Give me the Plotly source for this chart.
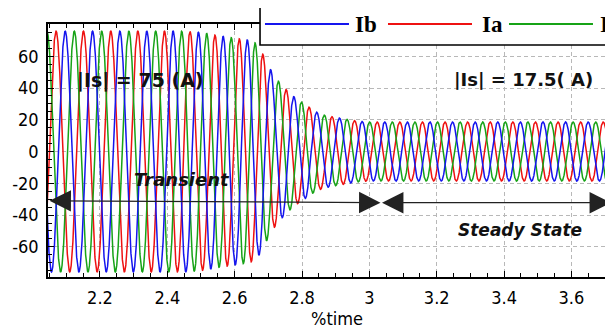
import numpy as np
import plotly.graph_objects as go

# ---- values ----
# instantaneous frequency of the currents (cycles per time unit) at knot times
freq_t = [2.00, 2.20, 2.35, 2.45, 2.55, 2.65, 2.75, 2.90, 3.80]
freq_v = [12.3, 12.3, 12.6, 13.3, 13.7, 14.2, 14.6, 14.9, 14.9]
# peak amplitude envelope (A) at knot times
amp_t = [2.00, 2.45, 2.50, 2.55, 2.588, 2.612, 2.638, 2.66, 2.68, 2.70, 2.725,
         2.75, 2.773, 2.797, 2.817, 2.84, 2.865, 2.888, 2.909, 2.932, 2.954,
         2.98, 3.00, 3.80]
amp_v = [75.8, 75.8, 75.0, 73.0, 71.8, 71.0, 70.3, 68.6, 63.0, 54.0, 45.5,
         39.7, 35.0, 31.3, 28.6, 25.1, 23.0, 22.0, 21.2, 20.3, 19.5,
         18.9, 18.6, 18.6]
red_peak_time = 2.0696          # a peak of Ia
t_start, t_end = 2.0457, 3.7175

x_tickvals = [2.2, 2.4, 2.6, 2.8, 3.0, 3.2, 3.4, 3.6]
x_ticktext = ["2.2", "2.4", "2.6", "2.8", "3", "3.2", "3.4", "3.6"]
y_tickvals = [-60, -40, -20, 0, 20, 40, 60]
y_ticktext = ["-60", "-40", "-20", "0", "20", "40", "60"]

series_names = ["Ia", "Ib", "Ic"]
series_colors = {"Ia": "#ee1111", "Ib": "#1515ee", "Ic": "#17a317"}
series_shift = {"Ia": 0.0, "Ib": 2 * np.pi / 3, "Ic": 4 * np.pi / 3}

# ---- waveforms ----
t = np.linspace(t_start - 0.01, t_end + 0.01, 8000)
f = np.interp(t, freq_t, freq_v)
phase = np.concatenate([[0.0], np.cumsum(0.5 * (f[1:] + f[:-1]) * np.diff(t))]) * 2 * np.pi
phase -= np.interp(red_peak_time, t, phase)
env = np.interp(t, amp_t, amp_v)

fig = go.Figure()
for name in ["Ia", "Ic", "Ib"]:
    fig.add_trace(go.Scatter(
        x=t, y=env * np.cos(phase - series_shift[name]), mode="lines", name=name,
        line=dict(color=series_colors[name], width=1.5), showlegend=False))

tick_font = dict(family="DejaVu Sans Condensed, Liberation Sans, Arial", size=18, color="black")
grid = dict(showgrid=True, gridcolor="#b8b8b8", gridwidth=1, griddash="4px,3px")

# page body has an 8px margin: figure is sized/offset to compensate
fig.update_layout(
    width=605, height=321, autosize=False,
    margin=dict(l=40, r=2, t=16, b=52, autoexpand=False),
    paper_bgcolor="white", plot_bgcolor="white",
    showlegend=False,
    xaxis=dict(range=[t_start, t_end], tickvals=x_tickvals, ticktext=x_ticktext,
               tickfont=tick_font, ticks="inside", ticklen=6, tickcolor="black",
               showline=True, linecolor="black", linewidth=1.5, mirror="ticks",
               minor=dict(ticks="inside", ticklen=4, dtick=0.05, tick0=2.0, tickcolor="black", showgrid=False),
               ticklabelstandoff=4, zeroline=False, automargin=False, **grid),
    yaxis=dict(range=[-79.0, 80.3], tickvals=y_tickvals, ticktext=y_ticktext,
               tickfont=tick_font, ticks="inside", ticklen=6, tickcolor="black",
               showline=True, linecolor="black", linewidth=1.5, mirror="ticks",
               minor=dict(ticks="inside", ticklen=4, dtick=5, tick0=0, tickcolor="black", showgrid=False),
               ticklabelstandoff=4, zeroline=False, automargin=False, **grid),
)

# x axis title
fig.add_annotation(text="%time", xref="paper", yref="paper", x=0.513, y=-0.166,
                   showarrow=False, yanchor="middle", xanchor="center",
                   font=dict(family="DejaVu Sans Condensed, Liberation Sans, Arial", size=18, color="black"))

# labels
def label(text, x, y, size):
    fig.add_annotation(text=text, xref="paper", yref="paper", x=x, y=y, showarrow=False,
                       xanchor="center", yanchor="middle",
                       font=dict(family="DejaVu Sans, Verdana", size=size, color="#111111"))

label("<b>|Is| = 75 (A)</b>", 0.165, 0.775, 19)
label("<b>|Is| = 17.5( A)</b>", 0.8446, 0.779, 18)
label("<b><i>Transient</i></b>", 0.238, 0.387, 18)
label("<b><i>Steady State</i></b>", 0.8375, 0.186, 17)

# double arrows (transient / steady state)
split_t = 3.033
for (x0, y0, x1, y1) in [(t_start, -31.0, split_t, -32.2), (split_t, -32.2, t_end, -32.2)]:
    fig.add_annotation(x=x1, y=y1, ax=x0, ay=y0, xref="x", yref="y", axref="x", ayref="y",
                       text="", showarrow=True, arrowhead=2, startarrowhead=2, arrowside="end+start",
                       arrowsize=3.3, startarrowsize=3.3, arrowwidth=1.3, arrowcolor="#222222",
                       standoff=0, startstandoff=0)

# legend box drawn by hand
fig.add_shape(type="rect", xref="paper", yref="paper", x0=0.3766, x1=1.03, y0=0.917, y1=1.066,
              line=dict(color="black", width=1.6), fillcolor="white", layer="above")
leg_items = [("Ib", 0.3854, 0.5346, 0.541), ("Ia", 0.6039, 0.7531, 0.7673), ("Ic", 0.8188, 0.968, 0.9769)]
for name, lx0, lx1, tx in leg_items:
    fig.add_shape(type="line", xref="paper", yref="paper", x0=lx0, x1=lx1, y0=1.0, y1=1.0,
                  line=dict(color=series_colors[name], width=1.8), layer="above")
    fig.add_annotation(text="<b>%s</b>" % name, xref="paper", yref="paper", x=tx, y=1.0,
                       xanchor="left", yanchor="middle", showarrow=False,
                       font=dict(family="Liberation Serif, Times New Roman", size=23, color="black"))

fig.write_html("out.html")
